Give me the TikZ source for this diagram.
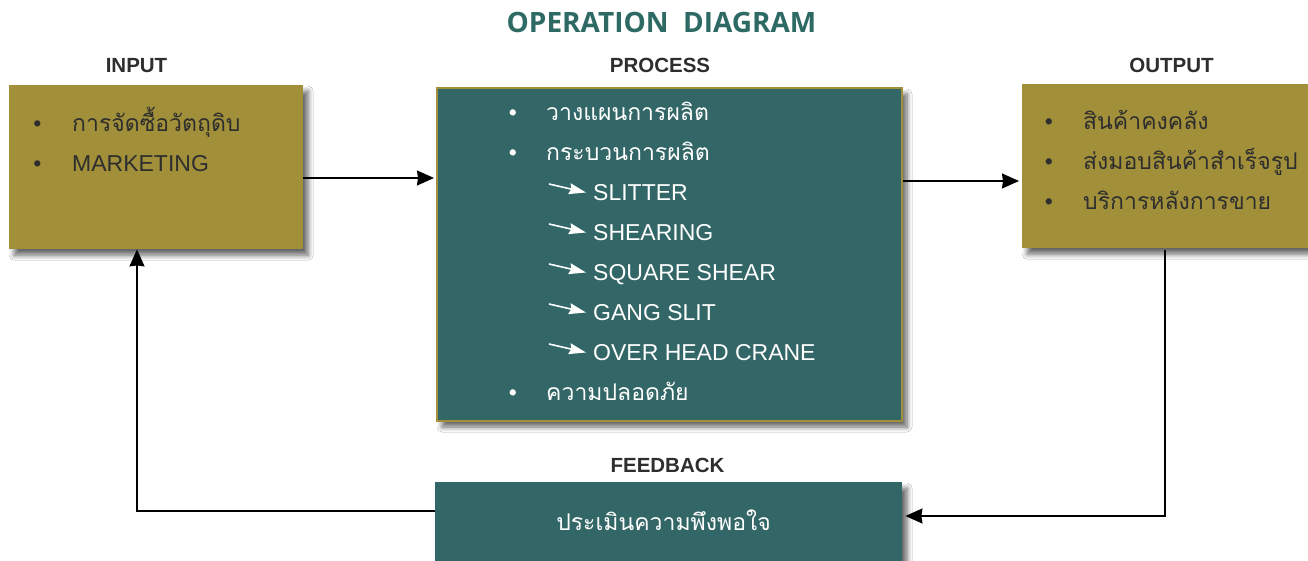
\documentclass[tikz,border=0pt]{standalone}
\usepackage{fontspec}
\setmainfont{Liberation Sans}
\newfontfamily\thai[Script=Thai]{Loma}
\newfontfamily\titlefont{Open Sans}
\usetikzlibrary{arrows.meta,shadows.blur}
\definecolor{boxolive}{HTML}{A18F3A}
\definecolor{boxteal}{HTML}{336666}
\definecolor{titleteal}{HTML}{2E6A64}
\definecolor{darktext}{HTML}{2E2E2E}
\tikzset{
  shadowed/.style={blur shadow={shadow xshift=5pt,shadow yshift=-6pt,shadow blur radius=5pt,shadow blur steps=8,shadow opacity=60}},
  olivebox/.style={shadowed,fill=boxolive,draw=none,inner sep=0pt,anchor=north west},
  tealbox/.style={shadowed,fill=boxteal,inner sep=0pt,anchor=north west},
  conn/.style={line width=1.4pt,-{Stealth[length=17pt,width=15pt,inset=1pt]}},
  warr/.style={white,line width=1.6pt,-{Stealth[length=17pt,width=11pt,inset=2pt]}},
  heading/.style={font=\fontsize{20.5}{24}\selectfont\bfseries,text=darktext,anchor=base,inner sep=0pt},
  darkitem/.style={font=\fontsize{23}{28}\selectfont,text=darktext,anchor=base west,inner sep=0pt},
  whiteitem/.style={font=\fontsize{23}{28}\selectfont,text=white,anchor=base west,inner sep=0pt},
  darkbullet/.style={font=\fontsize{23}{28}\selectfont,text=darktext,anchor=base,inner sep=0pt},
  whitebullet/.style={font=\fontsize{23}{28}\selectfont,text=white,anchor=base,inner sep=0pt},
}
\begin{document}
\begin{tikzpicture}[x=1pt,y=-1pt]
\useasboundingbox (0,0) rectangle (1308,561);
\fill[white] (0,0) rectangle (1308,561);

% title and headings
\node[font=\titlefont\fontsize{28}{32}\selectfont\bfseries,text=titleteal,anchor=base,inner sep=0pt] (title) at (661.5,33) {OPERATION\ \ DIAGRAM};
\node[heading] (hin) at (136.5,73) {INPUT};
\node[heading] (hproc) at (660,73) {PROCESS};
\node[heading] (hout) at (1171.5,73) {OUTPUT};
\node[heading] (hfb) at (667.5,472) {FEEDBACK};

% boxes
\node[olivebox,minimum width=294pt,minimum height=164pt] (input) at (9,85) {};
\node[tealbox,draw=boxolive,line width=2pt,minimum width=465pt,minimum height=333pt] (process) at (436,87) {};
\node[olivebox,minimum width=300pt,minimum height=164pt] (output) at (1022,84) {};
\node[tealbox,draw=none,minimum width=467pt,minimum height=110pt] (feedback) at (435,482) {};

% input items
\node[darkbullet] (ib1) at (37.5,132) {•};
\node[darkitem] (i1) at (72,132) {\thai การจัดซื้อวัตถุดิบ};
\node[darkbullet] (ib2) at (37.5,172) {•};
\node[darkitem] (i2) at (72,172) {MARKETING};

% process items
\node[whitebullet] (pb1) at (513,120.5) {•};
\node[whiteitem] (p1) at (546,120.5) {\thai วางแผนการผลิต};
\node[whitebullet] (pb2) at (513,160.5) {•};
\node[whiteitem] (p2) at (546,160.5) {\thai กระบวนการผลิต};
\node[whiteitem] (s1) at (593,200.5) {SLITTER};
\node[whiteitem] (s2) at (593,240.5) {SHEARING};
\node[whiteitem] (s3) at (593,280.5) {SQUARE SHEAR};
\node[whiteitem] (s4) at (593,320.5) {GANG SLIT};
\node[whiteitem] (s5) at (593,360.5) {OVER HEAD CRANE};
\node[whitebullet] (pb3) at (513,400.5) {•};
\node[whiteitem] (p3) at (546,400.5) {\thai ความปลอดภัย};
\foreach \s in {s1,s2,s3,s4,s5}
  \draw[warr] ([xshift=-44pt,yshift=16.5pt]\s.base west) -- ([xshift=-7pt,yshift=8pt]\s.base west);

% output items
\node[darkbullet] (ob1) at (1049,130) {•};
\node[darkitem] (o1) at (1083,130) {\thai สินค้าคงคลัง};
\node[darkbullet] (ob2) at (1049,170) {•};
\node[darkitem] (o2) at (1083,170) {\thai ส่งมอบสินค้าสำเร็จรูป};
\node[darkbullet] (ob3) at (1049,210) {•};
\node[darkitem] (o3) at (1083,210) {\thai บริการหลังการขาย};

% feedback text
\node[whiteitem,anchor=base] (f1) at (663.5,530) {\thai ประเมินความพึงพอใจ};

% connectors
\coordinate (a1) at (0,178);
\coordinate (a2) at (0,181);
\coordinate (c1) at (1165,516);
\coordinate (c2) at (137,511);
\draw[conn,shorten >=2pt] (input.east |- a1) -- (process.west |- a1);
\draw[conn,shorten >=3pt] (process.east |- a2) -- (output.west |- a2);
\draw[conn,shorten <=2pt,shorten >=3pt] (output.south -| c1) |- (feedback.east |- c1);
\draw[conn] (feedback.west |- c2) -| (input.south -| c2);
\end{tikzpicture}
\end{document}
